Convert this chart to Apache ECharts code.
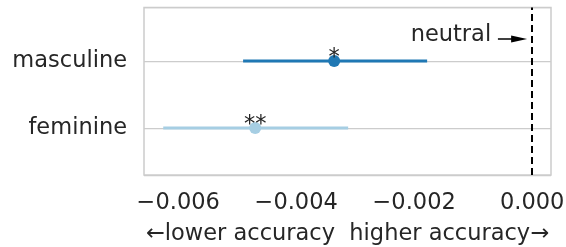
<!DOCTYPE html>
<html>
<head>
<meta charset="utf-8">
<script src="https://cdn.jsdelivr.net/npm/echarts@6/dist/echarts.min.js"></script>
<style>
  html, body { margin: 0; padding: 0; background: #fff; }
  #main { width: 566px; height: 247px; }
</style>
</head>
<body>
<div id="main"></div>
<script>
// rows: y value 0 = feminine, 1 = masculine
const categories = ['feminine', 'masculine'];
const means = [-0.004695, -0.003356];
const ciLow = [-0.006254, -0.0049];
const ciHigh = [-0.003119, -0.00178];
const stars = ['**', '*'];
const colors = ['#a6cee3', '#1f78b4'];

// "neutral" annotation (data coords)
const neutralText = [-0.000695, 1.39];
const neutralArrow = [[-0.00058, 1.33], [-0.00022, 1.33]];

const textColor = '#262626';
const font = 'DejaVu Sans';

const myChart = echarts.init(document.getElementById('main'));

const fmtX = (v) => {
  const k = Math.round(v / 0.002);
  if (Math.abs(v - k * 0.002) > 1e-9) return '';
  return (v < -1e-12 ? '\u2212' : '') + Math.abs(v).toFixed(3);
};

const series = [];
categories.forEach((c, i) => {
  // error bar
  series.push({
    type: 'line',
    data: [[ciLow[i], i], [ciHigh[i], i]],
    showSymbol: false,
    lineStyle: { color: colors[i], width: 3 },
    silent: true,
    z: 3
  });
  // point + significance stars
  series.push({
    type: 'scatter',
    data: [[means[i], i]],
    symbolSize: 12,
    itemStyle: { color: colors[i], opacity: 1 },
    label: {
      show: true,
      position: 'top',
      distance: -15,
      formatter: stars[i],
      color: textColor,
      fontFamily: font,
      fontSize: 22.5
    },
    z: 4
  });
});

// neutral reference line
series.push({
  type: 'line',
  data: [],
  markLine: {
    silent: true,
    symbol: ['none', 'none'],
    label: { show: false },
    lineStyle: { color: '#000', type: [7, 4], width: 2 },
    data: [{ xAxis: 0 }]
  }
});

// annotation text + arrow
series.push({
  type: 'scatter',
  data: [neutralText],
  symbolSize: 0,
  itemStyle: { opacity: 1 },
  label: {
    show: true,
    position: 'left',
    distance: 0,
    formatter: 'neutral',
    color: textColor,
    fontFamily: font,
    fontSize: 22.5
  },
  markLine: {
    silent: true,
    symbol: ['none', 'triangle'],
    symbolSize: [7, 16],
    label: { show: false },
    lineStyle: { color: '#000', type: 'solid', width: 1.5 },
    data: [[{ coord: neutralArrow[0] }, { coord: neutralArrow[1] }]]
  }
});

const option = {
  animation: false,
  backgroundColor: '#fff',
  grid: {
    left: 144, right: 15, top: 7.5, bottom: 72,
    outerBoundsMode: 'none',
    containLabel: false,
    show: true, borderColor: '#cccccc', borderWidth: 1.5
  },
  xAxis: {
    type: 'value',
    min: -0.00658,
    max: 0.00032,
    splitNumber: 3,
    axisLine: { show: false },
    axisTick: { show: false },
    splitLine: { show: false },
    axisLabel: {
      formatter: fmtX,
      color: textColor,
      fontFamily: font,
      fontSize: 22.5,
      margin: 17
    },
    name: '\u2190lower accuracy  higher accuracy\u2192',
    nameLocation: 'middle',
    nameGap: 48,
    nameTextStyle: { color: textColor, fontFamily: font, fontSize: 22.5 }
  },
  yAxis: {
    type: 'value',
    min: -0.7,
    max: 1.8,
    splitNumber: 2,
    axisLine: { show: false },
    axisTick: { show: false },
    splitLine: { show: true, lineStyle: { color: '#cccccc', width: 1.25 } },
    axisLabel: {
      formatter: (v) => (Math.abs(v - Math.round(v)) < 1e-9 && categories[Math.round(v)]) || '',
      color: textColor,
      fontFamily: font,
      fontSize: 22.5,
      margin: 17
    }
  },
  series
};

myChart.setOption(option);
</script>
</body>
</html>
